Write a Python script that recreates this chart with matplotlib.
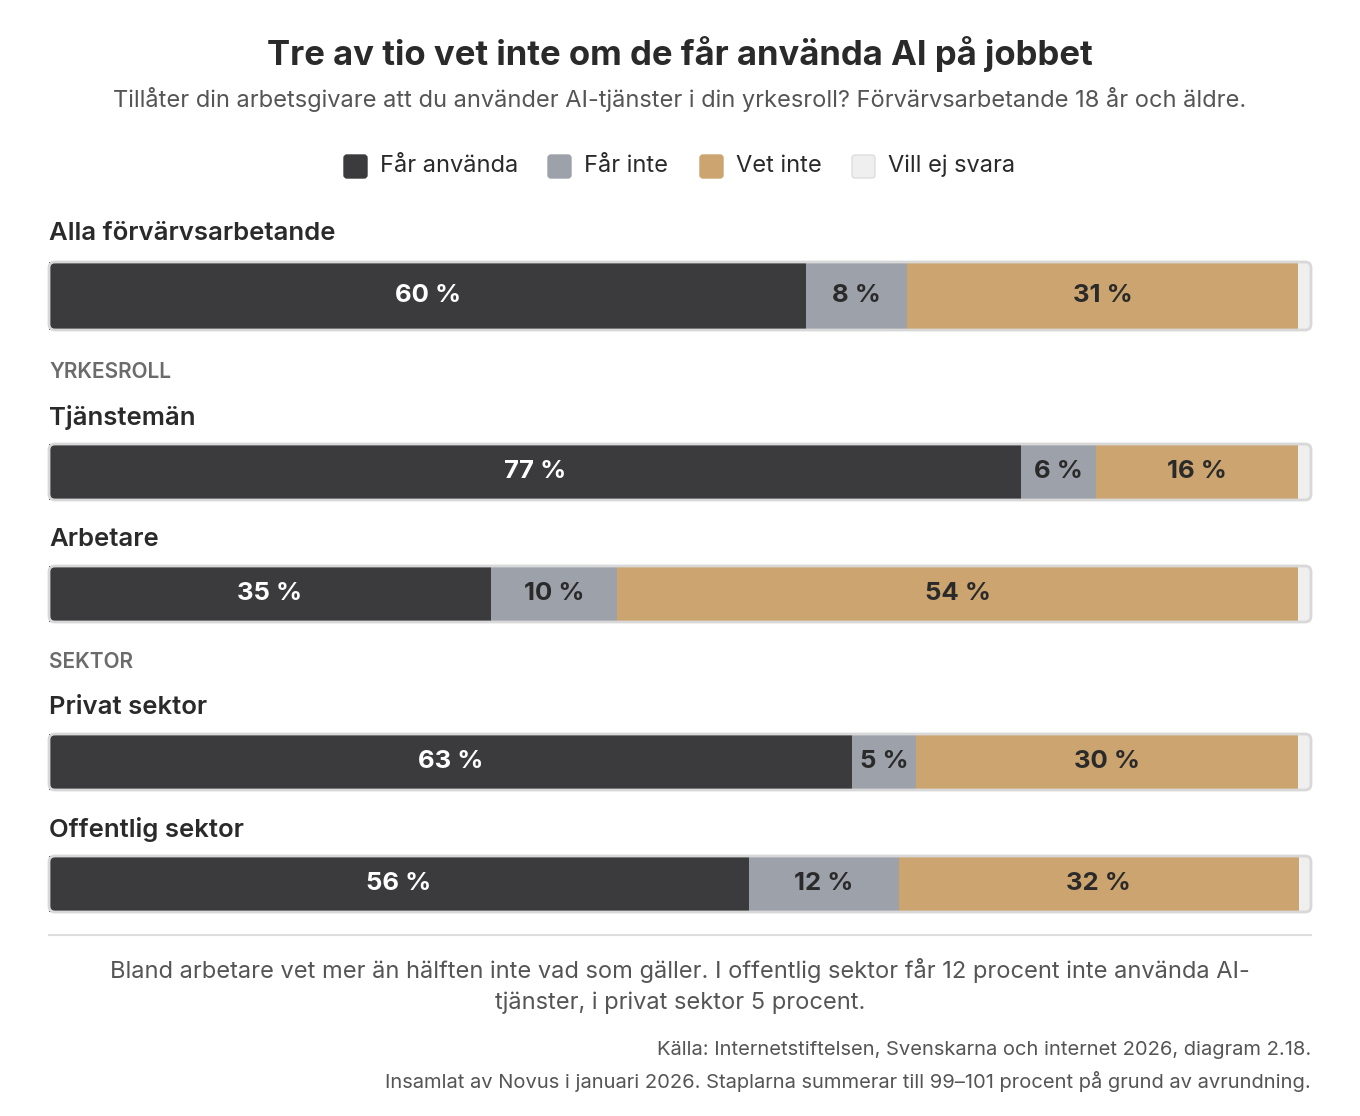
import matplotlib
matplotlib.use("Agg")
import matplotlib.pyplot as plt
from matplotlib.patches import FancyBboxPatch

plt.rcParams['font.family'] = ['Inter', 'DejaVu Sans']

series = ["Får använda", "Får inte", "Vet inte", "Vill ej svara"]
colors = ["#3b3a3c", "#9da2aa", "#cba46f", "#efefef"]
groups = ["Alla förvärvsarbetande", "Tjänstemän", "Arbetare", "Privat sektor", "Offentlig sektor"]
far_anvanda = [60, 77, 35, 63, 56]
far_inte = [8, 6, 10, 5, 12]
vet_inte = [31, 16, 54, 30, 32]
vill_ej = [1, 1, 1, 1, 1]

fig = plt.figure(figsize=(13.6, 11.16), dpi=100)
ax = fig.add_axes([0, 0, 1, 1])
ax.set_xlim(0, 1360); ax.set_ylim(1116, 0); ax.axis('off')

fig.text(0.5, 1 - 54/1116, "Tre av tio vet inte om de får använda AI på jobbet", ha='center', va='center',
         fontsize=25, fontweight='bold', color='#2a2a2a')
fig.text(0.5, 1 - 99/1116, "Tillåter din arbetsgivare att du använder AI-tjänster i din yrkesroll? Förvärvsarbetande 18 år och äldre.",
         ha='center', va='center', fontsize=17, color='#555')

# legend
lx = [344, 548, 700, 852]
for x, s, c in zip(lx, series, colors):
    ax.add_patch(FancyBboxPatch((x, 155), 23, 23, boxstyle="round,pad=0,rounding_size=3",
                                fc=c, ec='#dddddd' if c == "#efefef" else c, lw=1))
    ax.text(x + 36, 166, s, va='center', fontsize=17, color='#2a2a2a')

x0, x1 = 49, 1311
W = x1 - x0
centers = [296, 472, 594, 762, 884]
heights = [68, 56, 56, 56, 56]
label_y = [234, 417, 539, 707, 829]
for i, g in enumerate(groups):
    ax.text(x0, label_y[i], g, va='center', fontsize=18.5, fontweight='semibold', color='#2a2a2a')
    vals = [far_anvanda[i], far_inte[i], vet_inte[i], vill_ej[i]]
    tot = sum(vals)
    left = x0
    cy, h = centers[i], heights[i]
    for j, v in enumerate(vals):
        w = v / tot * W
        ax.barh(cy, w, height=h, left=left, color=colors[j], lw=0)
        if j < 3:
            ax.text(left + w / 2, cy, f"{v} %", ha='center', va='center', fontsize=18.5, fontweight='bold',
                    color='white' if j == 0 else '#2a2a2a')
        left += w
    ax.add_patch(FancyBboxPatch((x0, cy - h / 2), W, h, boxstyle="round,pad=0,rounding_size=6",
                                fc='none', ec='#d8d8d8', lw=2))

for y, t in [(372, "YRKESROLL"), (662, "SEKTOR")]:
    ax.text(x0, y, t, va='center', fontsize=15, fontweight='semibold', color='#6b6b6b')

ax.plot([x0, x1], [935, 935], color='#dddddd', lw=1.5)
ax.text(680, 986, "Bland arbetare vet mer än hälften inte vad som gäller. I offentlig sektor får 12 procent inte använda AI-\ntjänster, i privat sektor 5 procent.",
        ha='center', va='center', fontsize=17, color='#555', linespacing=1.45)
ax.text(x1, 1050, "Källa: Internetstiftelsen, Svenskarna och internet 2026, diagram 2.18.", ha='right', va='center',
        fontsize=14.5, color='#555')
ax.text(x1, 1081, "Insamlat av Novus i januari 2026. Staplarna summerar till 99–101 procent på grund av avrundning.",
        ha='right', va='center', fontsize=14.5, color='#555')

fig.savefig("out.png", dpi=100, facecolor='white')
